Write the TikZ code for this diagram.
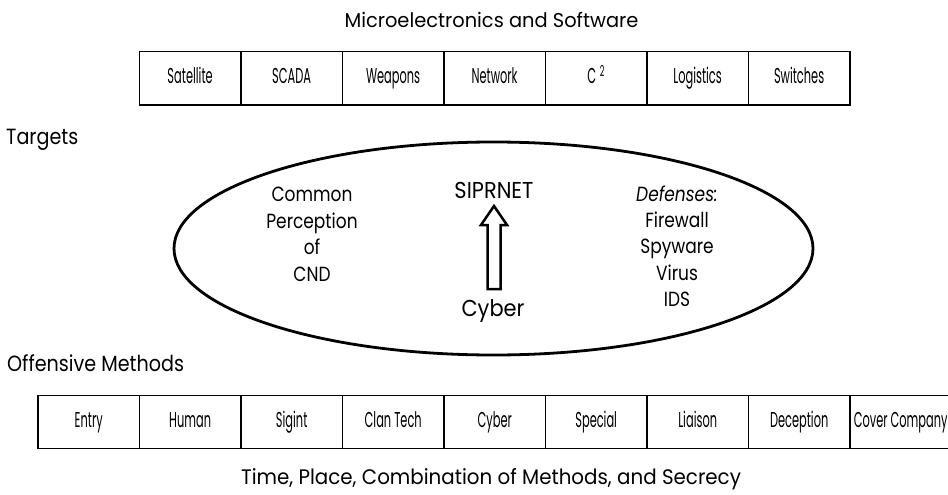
\documentclass[tikz,border=0pt]{standalone}
\usepackage{fontspec}
\setmainfont{Poppins}
\newfontfamily\condfont{Poppins}[FakeStretch=0.53]
\newfontfamily\titlefont{Poppins}[FakeStretch=0.97]
\newfontfamily\bottomfont{Poppins}[FakeStretch=0.945]
\newfontfamily\labelfont{Poppins}[FakeStretch=0.87]
\newfontfamily\ovalfont{Poppins}[FakeStretch=0.83]
\newfontfamily\centerfont{Poppins}[FakeStretch=0.91]
\begin{document}
\begin{tikzpicture}[x=1pt,y=-1pt,
  cell/.style={draw, line width=1.3pt, minimum width=101.5pt, minimum height=53.3pt,
    inner sep=0pt, text height=15pt, text depth=4pt, anchor=north west,
    font=\condfont\fontsize{21.5}{24}\selectfont},
  heading/.style={inner sep=0pt, anchor=base, font=\titlefont\fontsize{20}{24}\selectfont},
  sidelabel/.style={inner sep=0pt, anchor=base west, font=\labelfont\fontsize{22}{26}\selectfont},
  ovaltext/.style={inner sep=0pt, anchor=base, font=\ovalfont\fontsize{20.5}{24}\selectfont},
  centertext/.style={inner sep=0pt, anchor=base, font=\centerfont\fontsize{23}{26}\selectfont}]
\useasboundingbox (0,0) rectangle (948,495);

% titles and labels
\node[heading] (title) at (491.5,27.3) {Microelectronics and Software};
\node[sidelabel] (targets) at (6,144) {Targets};
\node[sidelabel] (offensive) at (7,371) {Offensive Methods};
\node[heading, font=\bottomfont\fontsize{21}{24}\selectfont] (bottomtitle) at (491,484) {Time, Place, Combination of Methods, and Secrecy};

% top row
\foreach \t [count=\i] in {Satellite,SCADA,Weapons,Network,{C\,\textsuperscript{2}},Logistics,Switches}
  \node[cell] (top\i) at ({138.7+(\i-1)*101.5},51) {\t};

% bottom row
\foreach \t [count=\i] in {Entry,Human,Sigint,Clan Tech,Cyber,Special,Liaison,Deception,Cover Company}
  \node[cell] (bot\i) at ({37.3+(\i-1)*101.5},394.7) {\t};

% target oval
\draw[line width=2.8pt] (493.5,248.5) ellipse [x radius=319.5, y radius=106.5];

% left column
\foreach \t [count=\i] in {Common,Perception,of,CND}
  \node[ovaltext] (left\i) at (312,{201.5+(\i-1)*26.5}) {\t};

% right column
\foreach \t [count=\i] in {\textit{Defenses:},Firewall,Spyware,Virus,IDS}
  \node[ovaltext] (right\i) at (677,{201+(\i-1)*26.4}) {\t};

% center
\node[centertext] (siprnet) at (494,198.3) {SIPRNET};
\node[centertext] (cyber) at (493,316) {Cyber};
\draw[line width=2.5pt, line join=miter] (487.5,289) -- (487.5,225) -- (481,225) -- (494,206)
  -- (507,225) -- (500.5,225) -- (500.5,289) -- cycle;
\end{tikzpicture}
\end{document}
